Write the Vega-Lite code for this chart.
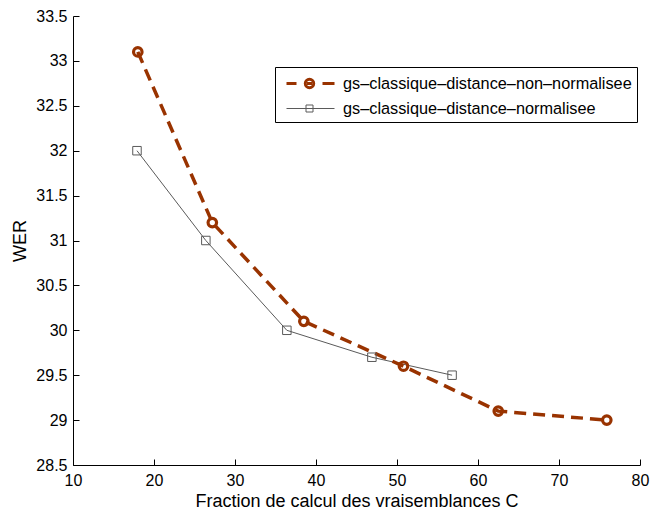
{
  "$schema": "https://vega.github.io/schema/vega-lite/v6.json",
  "width": 567,
  "height": 449,
  "autosize": {"type": "none"},
  "padding": {"left": 73, "top": 16, "right": 10, "bottom": 43},
  "background": "white",
  "config": {
    "view": {"stroke": null},
    "font": "Liberation Sans",
    "axis": {
      "grid": false,
      "domainColor": "black",
      "tickColor": "black",
      "labelColor": "black",
      "titleColor": "black",
      "labelFont": "Liberation Sans",
      "titleFont": "Liberation Sans",
      "labelFontSize": 16,
      "titleFontSize": 18,
      "titleFontWeight": "normal",
      "labelFlush": false,
      "labelOverlap": false,
      "domainWidth": 1,
      "tickWidth": 1
    }
  },
  "data": {
    "values": [
      {"series": "gs–classique–distance–non–normalisee", "C": 18.0, "WER": 33.1},
      {"series": "gs–classique–distance–non–normalisee", "C": 27.2, "WER": 31.2},
      {"series": "gs–classique–distance–non–normalisee", "C": 38.5, "WER": 30.1},
      {"series": "gs–classique–distance–non–normalisee", "C": 50.8, "WER": 29.6},
      {"series": "gs–classique–distance–non–normalisee", "C": 62.5, "WER": 29.1},
      {"series": "gs–classique–distance–non–normalisee", "C": 75.9, "WER": 29.0},
      {"series": "gs–classique–distance–normalisee", "C": 17.9, "WER": 32.0},
      {"series": "gs–classique–distance–normalisee", "C": 26.4, "WER": 31.0},
      {"series": "gs–classique–distance–normalisee", "C": 36.4, "WER": 30.0},
      {"series": "gs–classique–distance–normalisee", "C": 46.9, "WER": 29.7},
      {"series": "gs–classique–distance–normalisee", "C": 56.8, "WER": 29.5}
    ]
  },
  "encoding": {
    "color": {
      "field": "series",
      "type": "nominal",
      "scale": {
        "domain": ["gs–classique–distance–non–normalisee", "gs–classique–distance–normalisee"],
        "range": ["#993300", "#5a5a5a"]
      },
      "legend": {
        "title": null,
        "orient": "none",
        "legendX": 202,
        "legendY": 51,
        "padding": 5,
        "strokeColor": "black",
        "fillColor": "white",
        "labelFont": "Liberation Sans",
        "labelFontSize": 16.3,
        "labelColor": "black",
        "labelOffset": 40,
        "labelLimit": 400,
        "symbolSize": 400,
        "symbolOpacity": 1,
        "rowPadding": 4
      }
    }
  },
  "layer": [
    {
      "encoding": {
        "x": {
          "field": "C",
          "type": "quantitative",
          "scale": {"domain": [10, 80], "nice": false, "zero": false},
          "axis": {
            "orient": "bottom",
            "values": [10, 20, 30, 40, 50, 60, 70, 80],
            "format": "d",
            "title": "Fraction de calcul des vraisemblances C",
            "ticks": false,
            "labelPadding": 7,
            "titleBaseline": "alphabetic",
            "titleY": 41.2
          }
        },
        "y": {
          "field": "WER",
          "type": "quantitative",
          "scale": {"domain": [28.5, 33.5], "nice": false, "zero": false},
          "axis": {
            "orient": "left",
            "values": [28.5, 29, 29.5, 30, 30.5, 31, 31.5, 32, 32.5, 33, 33.5],
            "format": "~g",
            "title": "WER",
            "ticks": false,
            "labelPadding": 6,
            "titleBaseline": "alphabetic",
            "titleX": -48
          }
        }
      },
      "layer": [
        {
          "transform": [{"filter": "datum.series === 'gs–classique–distance–normalisee'"}],
          "mark": {"type": "line", "strokeWidth": 1}
        },
        {
          "transform": [{"filter": "datum.series === 'gs–classique–distance–non–normalisee'"}],
          "mark": {"type": "line", "strokeWidth": 3.5, "strokeDash": [12, 7], "strokeCap": "butt"}
        },
        {
          "transform": [{"filter": "datum.series === 'gs–classique–distance–normalisee'"}],
          "mark": {"type": "point", "shape": "square", "filled": false, "size": 72, "strokeWidth": 1, "opacity": 1}
        },
        {
          "transform": [{"filter": "datum.series === 'gs–classique–distance–non–normalisee'"}],
          "mark": {"type": "point", "shape": "circle", "filled": false, "size": 72, "strokeWidth": 3.2, "opacity": 1}
        }
      ]
    },
    {
      "mark": {"type": "point", "filled": false, "size": 400, "opacity": 0},
      "encoding": {
        "x": {
          "field": "C",
          "type": "quantitative",
          "scale": {"domain": [10, 80], "nice": false, "zero": false},
          "axis": {
            "orient": "bottom",
            "values": [10, 20, 30, 40, 50, 60, 70, 80],
            "domain": false,
            "labels": false,
            "ticks": true,
            "tickSize": 6,
            "offset": -6,
            "title": null
          }
        },
        "y": {
          "field": "WER",
          "type": "quantitative",
          "scale": {"domain": [28.5, 33.5], "nice": false, "zero": false},
          "axis": {
            "orient": "left",
            "values": [28.5, 29, 29.5, 30, 30.5, 31, 31.5, 32, 32.5, 33, 33.5],
            "domain": false,
            "labels": false,
            "ticks": true,
            "tickSize": 6,
            "offset": -6,
            "title": null
          }
        },
        "shape": {
          "field": "series",
          "type": "nominal",
          "scale": {
            "domain": ["gs–classique–distance–non–normalisee", "gs–classique–distance–normalisee"],
            "range": [
              "M-0.5,0H0.5M3.1,0H4.3M1.38,0A0.42,0.42 0 1,1 2.22,0A0.42,0.42 0 1,1 1.38,0M1.55,0H2.05",
              "M-0.5,0H4.3M1.45,-0.35H2.15V0.35H1.45Z"
            ]
          },
          "legend": {
            "title": null,
            "orient": "none",
            "legendX": 202,
            "legendY": 51,
            "padding": 5,
            "strokeColor": "black",
            "fillColor": "white",
            "labelFont": "Liberation Sans",
            "labelFontSize": 16.3,
            "labelColor": "black",
            "labelOffset": 40,
            "labelLimit": 400,
            "symbolSize": 400,
            "symbolOpacity": 1,
            "rowPadding": 4
          }
        },
        "strokeWidth": {
          "field": "series",
          "type": "ordinal",
          "scale": {
            "domain": ["gs–classique–distance–non–normalisee", "gs–classique–distance–normalisee"],
            "range": [3, 1]
          },
          "legend": {
            "title": null,
            "orient": "none",
            "legendX": 202,
            "legendY": 51,
            "padding": 5,
            "strokeColor": "black",
            "fillColor": "white",
            "labelFont": "Liberation Sans",
            "labelFontSize": 16.3,
            "labelColor": "black",
            "labelOffset": 40,
            "labelLimit": 400,
            "symbolSize": 400,
            "symbolOpacity": 1,
            "rowPadding": 4
          }
        }
      }
    }
  ],
  "resolve": {"axis": {"x": "independent", "y": "independent"}}
}
